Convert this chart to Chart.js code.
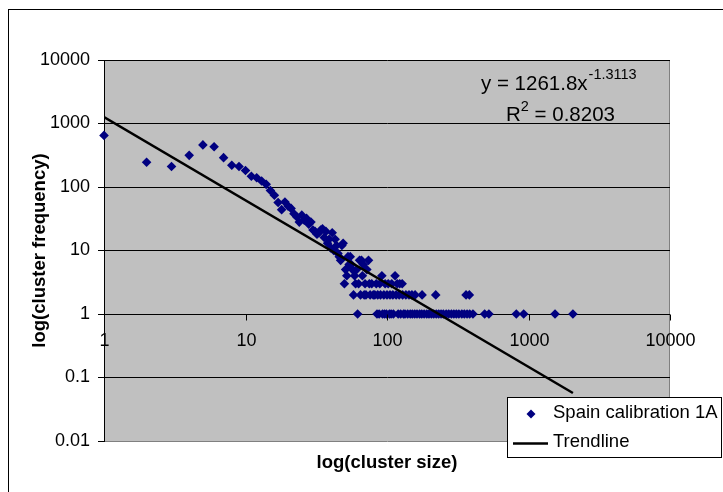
<!DOCTYPE html>
<html><head><meta charset="utf-8">
<script src="https://cdn.jsdelivr.net/npm/chart.js@4/dist/chart.umd.min.js"></script>
<style>html,body{margin:0;padding:0;background:#fff;}canvas{display:block;}</style>
</head><body>
<canvas id="c" width="723" height="492" style="width:723px;height:492px"></canvas>
<script>
// ---- data ----
const clusterSize = [
  1,2,3,4,5,6,7,8,9,10,
  11,12,13,14,15,16,17,18,19,20,
  21,22,23,24,25,26,27,28,29,30,
  31,32,33,34,35,36,37,38,39,40,
  41,42,43,44,45,46,47,48,49,50,
  51,52,53,54,55,56,57,58,59,60,
  61,62,63,64,65,66,67,68,69,70,
  71,72,
  74,75,76,78,80,82,84,85,86,88,
  89,90,92,93,95,96,97,99,100,102,
  104,105,107,108,110,111,114,116,118,120,
  122,123,125,128,129,131,134,136,140,143,
  146,150,151,157,158,163,170,176,177,183,
  191,198,206,214,221,223,232,241,250,262,
  273,285,297,309,322,338,352,362,368,382,
  384,405,490,525,820,925,1540,2060
];
const clusterFreq = [
  650,245,210,315,460,430,290,220,210,182,
  148,140,124,110,88,74,57,44,58,50,
  46,38,34,28,36,30,32,26,28,21,
  20,18,19,21,22,16,20,13,15,11,
  19,10,15,12,9,8,7,12,13,3,
  5,4,8,6,8,6,5,2,4,3,
  5,1,3,7,2,7,4,6,2,3,
  2,5,
  7,3,2,3,2,2,3,1,2,1,
  3,2,4,1,2,1,3,1,2,3,
  1,2,1,3,2,1,4,2,3,1,
  2,3,1,3,2,1,1,2,1,2,
  1,2,1,1,2,1,1,1,2,1,
  1,1,1,1,2,1,1,1,1,1,
  1,1,1,1,1,1,1,2,1,2,
  1,1,1,1,1,1,1,1
];
// power trendline endpoints (y = 1261.8 x^-1.3113 over the data range)
const trendSize = [1, 2060];
const trendFreq = [1261.8, 0.057];
const xTickValues = [1, 10, 100, 1000, 10000];
const yTickValues = [0.01, 0.1, 1, 10, 100, 1000, 10000];
const seriesName = 'Spain calibration 1A';
const trendName = 'Trendline';
const xTitle = 'log(cluster size)';
const yTitle = 'log(cluster frequency)';
const eqMain = 'y = 1261.8x';
const eqExp = '-1.3113';
const r2Main = 'R';
const r2Sup = '2';
const r2Rest = ' = 0.8203';

const FONT = '"Liberation Sans", Arial, sans-serif';
const points = clusterSize.map((s, i) => ({x: s, y: clusterFreq[i]}));
const trend = trendSize.map((s, i) => ({x: s, y: trendFreq[i]}));

const decor = {
  id: 'decor',
  beforeDraw(chart) {
    const {ctx, chartArea: a} = chart;
    ctx.save();
    ctx.fillStyle = '#fff';
    ctx.fillRect(0, 0, chart.width, chart.height);
    ctx.strokeStyle = '#000';
    ctx.lineWidth = 1;
    ctx.strokeRect(8.5, 9.5, 800, 600);
    ctx.fillStyle = '#C0C0C0';
    ctx.fillRect(a.left, a.top, a.right - a.left, a.bottom - a.top);
    ctx.strokeStyle = '#808080';
    ctx.beginPath();
    ctx.moveTo(a.right - 0.5, a.top);
    ctx.lineTo(a.right - 0.5, a.bottom);
    ctx.stroke();
    ctx.restore();
  },
  afterDraw(chart) {
    const {ctx, scales: {x, y}} = chart;
    ctx.save();
    // x axis crossing at y = 1
    const y1 = Math.round(y.getPixelForValue(1)) + 0.5;
    ctx.strokeStyle = '#000';
    ctx.lineWidth = 1;
    ctx.fillStyle = '#000';
    ctx.font = '18px ' + FONT;
    ctx.textAlign = 'center';
    ctx.textBaseline = 'middle';
    xTickValues.forEach(v => {
      const px = Math.round(x.getPixelForValue(v)) + 0.5;
      ctx.beginPath();
      ctx.moveTo(px, y1);
      ctx.lineTo(px, y1 + 6);
      ctx.stroke();
      ctx.fillText(String(v), px, y1 + 27);
    });
    // equation label
    ctx.textAlign = 'left';
    ctx.textBaseline = 'alphabetic';
    ctx.font = '20.5px ' + FONT;
    ctx.fillText(eqMain, 481, 90);
    const w1 = ctx.measureText(eqMain).width;
    ctx.font = '14.5px ' + FONT;
    ctx.fillText(eqExp, 481 + w1 + 1, 79);
    ctx.font = '20.5px ' + FONT;
    ctx.fillText(r2Main, 506, 121);
    const wR = ctx.measureText(r2Main).width;
    ctx.font = '14.5px ' + FONT;
    ctx.fillText(r2Sup, 506 + wR, 111);
    const wS = ctx.measureText(r2Sup).width;
    ctx.font = '20.5px ' + FONT;
    ctx.fillText(r2Rest, 506 + wR + wS, 121);
    // legend
    ctx.fillStyle = '#fff';
    ctx.fillRect(507, 397, 215, 61);
    ctx.strokeStyle = '#000';
    ctx.strokeRect(507.5, 397.5, 214, 60);
    ctx.fillStyle = '#000080';
    ctx.beginPath();
    ctx.moveTo(531, 409.5); ctx.lineTo(535.5, 414); ctx.lineTo(531, 418.5); ctx.lineTo(526.5, 414);
    ctx.closePath(); ctx.fill();
    ctx.strokeStyle = '#000';
    ctx.lineWidth = 2.5;
    ctx.beginPath(); ctx.moveTo(513, 443.5); ctx.lineTo(548, 443.5); ctx.stroke();
    ctx.fillStyle = '#000';
    ctx.font = '18.5px ' + FONT;
    ctx.textBaseline = 'middle';
    ctx.fillText(seriesName, 553, 413);
    ctx.fillText(trendName, 553, 442);
    ctx.restore();
  }
};

new Chart(document.getElementById('c'), {
  type: 'scatter',
  data: {
    datasets: [
      {label: trendName, data: trend, showLine: true, borderColor: '#000', borderWidth: 2.5,
       pointRadius: 0, fill: false, order: 0},
      {label: seriesName, data: points, pointStyle: 'rectRot', pointRadius: 4.8,
       backgroundColor: '#000080', borderColor: '#000080', borderWidth: 0, order: 1, clip: false}
    ]
  },
  options: {
    responsive: false,
    devicePixelRatio: 1,
    animation: false,
    layout: {padding: {top: 60, right: 53, left: 0, bottom: 0}},
    plugins: {legend: {display: false}, tooltip: {enabled: false}},
    scales: {
      x: {
        type: 'logarithmic', min: 1, max: 10000,
        afterBuildTicks: s => { s.ticks = xTickValues.map(v => ({value: v})); },
        ticks: {display: false},
        grid: {display: false},
        border: {display: false},
        title: {display: true, text: xTitle, color: '#000',
                font: {family: FONT, size: 18.5, weight: 'bold'}, padding: {top: 0, bottom: 18}},
        afterFit: s => { s.height = 51; }
      },
      y: {
        type: 'logarithmic', min: 0.01, max: 10000,
        afterBuildTicks: s => { s.ticks = yTickValues.map(v => ({value: v})); },
        ticks: {color: '#000', font: {family: FONT, size: 18}, padding: 8,
                callback: v => String(v)},
        grid: {color: c => (c.tick && c.tick.value === 0.01) ? '#808080' : '#000',
               tickColor: '#000', lineWidth: 1, tickLength: 6},
        border: {display: true, color: '#000', width: 1},
        title: {display: true, text: yTitle, color: '#000',
                font: {family: FONT, size: 18.5, weight: 'bold'}, padding: {top: 29, bottom: 0}},
        afterFit: s => { s.width = 104; }
      }
    }
  },
  plugins: [decor]
});
</script>
</body></html>
